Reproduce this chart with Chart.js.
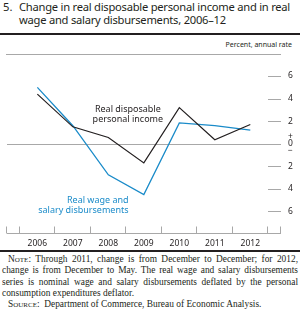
<!DOCTYPE html>
<html>
<head>
<meta charset="utf-8">
<script src="https://cdn.jsdelivr.net/npm/chart.js@4.4.1/dist/chart.umd.min.js"></script>
<style>
  html, body { margin: 0; padding: 0; background: #fff; }
  body { width: 300px; height: 310px; position: relative; overflow: hidden; }
  #chart { position: absolute; left: 0; top: 0; }
  .t { position: absolute; font-family: "Noto Sans", sans-serif; font-size: 11.2px; color: #231f20; white-space: nowrap; line-height: 13px; }
  .rule { position: absolute; left: 0; width: 300px; background: #231f20; }
  #unit { position: absolute; top: 40px; right: 8px; font-family: "Noto Sans", sans-serif; font-size: 7px; color: #231f20; white-space: nowrap; }
  #note { position: absolute; top: 254px; left: 2px; width: 296px; font-family: "Liberation Serif", serif; font-size: 9.4px; line-height: 11.3px; color: #231f20; text-align: justify; }
  #note p { margin: 0; }
  .sc { font-variant: small-caps; }
</style>
</head>
<body>
<div class="t" style="left:3px;top:0px;">5.</div>
<div class="t" style="left:19px;top:0px;letter-spacing:-0.25px;">Change in real disposable personal income and in real</div>
<div class="t" style="left:19px;top:13px;letter-spacing:-0.25px;">wage and salary disbursements, 2006–12</div>
<div class="rule" style="top:33px;height:2px;"></div>
<div id="unit">Percent, annual rate</div>
<canvas id="chart" width="300" height="250"></canvas>
<div class="rule" style="top:250px;height:2px;"></div>
<div id="note">
<p style="text-indent:6px;"><span class="sc">Note</span>: Through 2011, change is from December to December; for 2012, change is from December to May. The real wage and salary disbursements series is nominal wage and salary disbursements deflated by the personal consumption expenditures deflator.</p>
<p style="text-indent:6px;"><span class="sc">Source</span>:&nbsp; Department of Commerce, Bureau of Economic Analysis.</p>
</div>
<script>
const years = [2006, 2007, 2008, 2009, 2010, 2011, 2012];
const incomeValues = [4.4, 1.5, 0.55, -1.7, 3.2, 0.35, 1.7];
const wageValues = [5.0, 1.6, -2.75, -4.5, 1.85, 1.6, 1.2];
const yTickValues = [-6, -4, -2, 0, 2, 4, 6];
const xBandEdges = [2005.5, 2006.5, 2007.5, 2008.5, 2009.5, 2010.5, 2011.5, 2012.5];
const incomeLabel = ["Real disposable", "personal income"];
const wageLabel = ["Real wage and", "salary disbursements"];

const BLACK = '#231f20';
const BLUE = '#1a8bc9';
const GRAY = '#a8a8a8';

const decor = {
  id: 'decor',
  beforeDatasetsDraw(chart) {
    const { ctx, chartArea: a, scales: { x, y } } = chart;
    ctx.save();
    ctx.lineWidth = 1;
    ctx.strokeStyle = GRAY;
    ctx.beginPath();
    ctx.moveTo(a.left - 1, Math.round(a.top) + 0.5);
    ctx.lineTo(a.right, Math.round(a.top) + 0.5);
    ctx.stroke();
    const y0 = Math.round(y.getPixelForValue(0)) + 0.5;
    ctx.beginPath();
    ctx.moveTo(a.left, y0);
    ctx.lineTo(a.right, y0);
    ctx.stroke();
    yTickValues.forEach(v => {
      if (v === 0) return;
      const py = Math.round(y.getPixelForValue(v)) + 0.5;
      ctx.beginPath();
      ctx.moveTo(a.right - 13, py);
      ctx.lineTo(a.right, py);
      ctx.stroke();
    });
    const yb = Math.round(a.bottom) - 0.5;
    ctx.beginPath();
    ctx.moveTo(a.left, yb);
    ctx.lineTo(a.right, yb);
    ctx.stroke();
    const xs = [a.left, a.right].concat(xBandEdges.map(v => x.getPixelForValue(v)));
    xs.forEach(px => {
      const rx = Math.round(px) - 0.5;
      ctx.beginPath();
      ctx.moveTo(rx, yb);
      ctx.lineTo(rx, yb - 7);
      ctx.stroke();
    });
    ctx.restore();
  },
  afterDatasetsDraw(chart) {
    const { ctx, scales: { x, y } } = chart;
    ctx.save();
    ctx.font = '9px "Noto Sans", sans-serif';
    ctx.textBaseline = 'middle';
    ctx.fillStyle = BLACK;
    ctx.textAlign = 'center';
    let px = x.getPixelForValue(2008.55), py = y.getPixelForValue(3.0);
    incomeLabel.forEach((s, i) => ctx.fillText(s, px, py + i * 9.4));
    ctx.fillStyle = BLUE;
    ctx.textAlign = 'right';
    px = x.getPixelForValue(2008.57); py = y.getPixelForValue(-5.05);
    wageLabel.forEach((s, i) => ctx.fillText(s, px, py + i * 9.4));
    ctx.restore();
  }
};

new Chart(document.getElementById('chart'), {
  type: 'line',
  data: {
    datasets: [
      { label: 'Real disposable personal income', data: years.map((yr, i) => ({ x: yr, y: incomeValues[i] })),
        borderColor: BLACK, borderWidth: 1.2, pointRadius: 0, tension: 0, fill: false },
      { label: 'Real wage and salary disbursements', data: years.map((yr, i) => ({ x: yr, y: wageValues[i] })),
        borderColor: BLUE, borderWidth: 1.3, pointRadius: 0, tension: 0, fill: false }
    ]
  },
  options: {
    responsive: false,
    animation: false,
    events: [],
    layout: { padding: { left: 7, top: 53.5, right: 0, bottom: 0 } },
    plugins: { legend: { display: false }, tooltip: { enabled: false }, title: { display: false } },
    scales: {
      x: {
        type: 'linear', min: 2005.145, max: 2012.865,
        afterBuildTicks(s) { s.ticks = years.map(v => ({ value: v })); },
        afterFit(s) { s.height = 16; },
        grid: { display: false, drawTicks: false },
        border: { display: false },
        ticks: { color: BLACK, padding: 4, maxRotation: 0, autoSkip: false,
          font: { family: 'Noto Sans', size: 8.5 }, callback: v => String(v) }
      },
      y: {
        position: 'right', min: -8, max: 8,
        afterBuildTicks(s) { s.ticks = yTickValues.map(v => ({ value: v })); },
        afterFit(s) { s.width = 19; },
        grid: { display: false, drawTicks: false },
        border: { display: false },
        ticks: { color: BLACK, padding: 7, autoSkip: false,
          font: { family: 'Noto Sans', size: 8.5, lineHeight: 0.8 },
          callback: v => v === 0 ? ['+', '0', '\u2212'] : String(Math.abs(v)) }
      }
    }
  },
  plugins: [decor]
});
</script>
</body>
</html>
